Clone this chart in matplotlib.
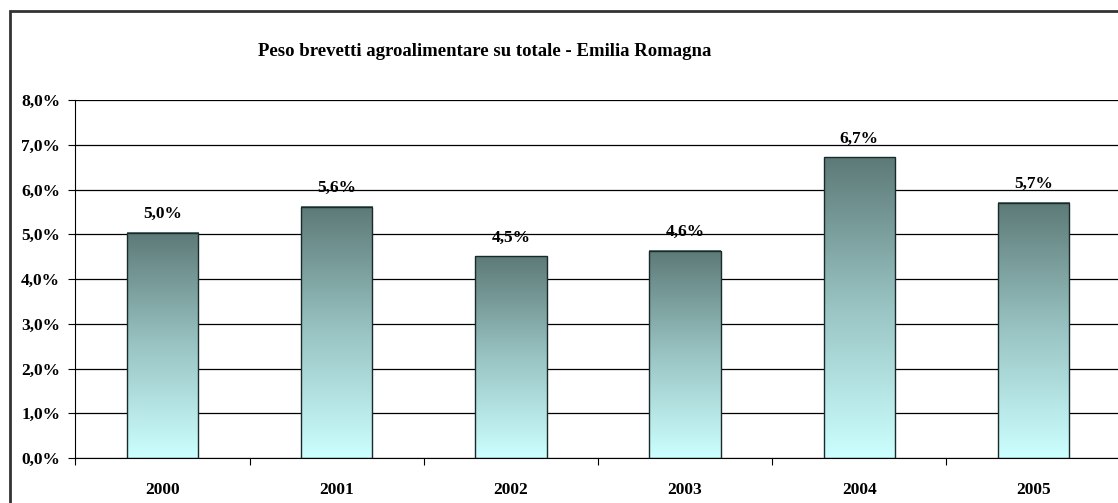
import numpy as np
import matplotlib.pyplot as plt
from matplotlib.colors import LinearSegmentedColormap
from matplotlib.patches import Rectangle
from matplotlib.ticker import FuncFormatter

years = ['2000', '2001', '2002', '2003', '2004', '2005']
values = [5.03, 5.61, 4.51, 4.63, 6.72, 5.70]
labels = ['5,0%', '5,6%', '4,5%', '4,6%', '6,7%', '5,7%']
title = 'Peso brevetti agroalimentare su totale - Emilia Romagna'

plt.rcParams['font.family'] = 'Liberation Serif'

W, H = 1118, 503
fig = plt.figure(figsize=(W / 100, H / 100), dpi=100)
fig.patch.set_facecolor('white')

# outer chart border (clipped on right and bottom like the source)
fig.add_artist(Rectangle((10 / W, -0.1), 1.2, (H - 11) / H + 0.1,
                         transform=fig.transFigure, fill=False,
                         edgecolor='#333333', linewidth=2))

ax = fig.add_axes([75.4 / W, 45 / H, 1045.2 / W, 358 / H])
x = np.arange(len(years))
bw = 0.41

cmap = LinearSegmentedColormap.from_list('g', ['#ccffff', '#99c4c3', '#5d7a77'])
grad = np.linspace(0, 1, 256).reshape(-1, 1)

ax.set_xlim(-0.5, len(years) - 0.5)
ax.set_ylim(0, 8)

for xi, v, lab in zip(x, values, labels):
    ax.imshow(grad, cmap=cmap, aspect='auto', origin='lower',
              extent=(xi - bw / 2, xi + bw / 2, 0, v), zorder=2)
    ax.add_patch(Rectangle((xi - bw / 2, 0), bw, v, fill=False,
                           edgecolor='#1a2a2a', linewidth=1, zorder=3))
    ax.text(xi, v + 0.24, lab, ha='center', va='bottom',
            fontsize=12.5, fontweight='bold')

ax.set_xlim(-0.5, len(years) - 0.5)
ax.set_ylim(0, 8)
ax.set_yticks(np.arange(0, 9, 1))
ax.yaxis.set_major_formatter(FuncFormatter(lambda v, p: f'{v:.1f}%'.replace('.', ',')))
ax.grid(axis='y', color='black', linewidth=0.9, zorder=0)
ax.set_axisbelow(True)

ax.set_xticks(np.arange(-0.5, len(years), 1))
ax.set_xticklabels([])
ax.set_xticks(x, minor=True)
ax.set_xticklabels(years, minor=True)
ax.tick_params(axis='x', which='minor', length=0, pad=17)
ax.tick_params(axis='x', which='major', length=5, direction='out', color='black')
ax.tick_params(axis='y', length=5, direction='out', pad=6)
for t in ax.get_xticklabels(minor=True) + ax.get_yticklabels():
    t.set_fontweight('bold')
    t.set_fontsize(12.5)

for s in ['top', 'right']:
    ax.spines[s].set_visible(False)
ax.spines['left'].set_color('black')
ax.spines['bottom'].set_color('black')

fig.text(485 / W, 1 - 51 / H, title, ha='center', va='center',
         fontsize=13.5, fontweight='bold')

fig.savefig('out.png', dpi=100)
